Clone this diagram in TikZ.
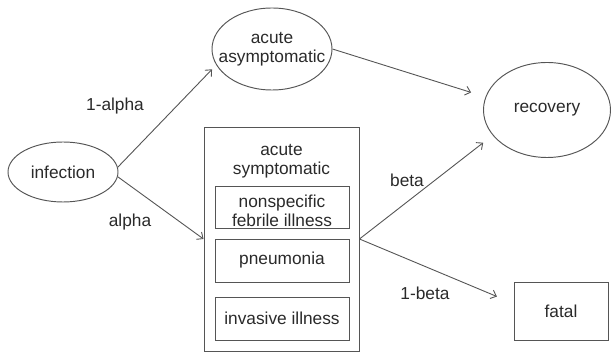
\documentclass[tikz,border=0pt]{standalone}
\usepackage{fontspec}
\setmainfont{Liberation Sans}
\usetikzlibrary{shapes.geometric,arrows.meta}
\definecolor{ln}{HTML}{555555}
\definecolor{tx}{HTML}{2A2A2A}
\begin{document}
\begin{tikzpicture}[x=1pt,y=-1pt,
  every node/.style={font=\fontsize{17.3}{19.5}\selectfont, text=tx, align=center, inner sep=0pt},
  ell/.style={draw=ln, line width=0.95pt, ellipse},
  box/.style={draw=ln, line width=0.95pt, rectangle},
  conn/.style={draw=ln, line width=0.9pt, -{Straight Barb[length=5pt,width=9pt]}},
  lbl/.style={}]
\useasboundingbox (0,0) rectangle (611,352);
\node[ell, minimum width=110pt, minimum height=60pt] (inf) at (63,172) {};
\node (inftxt) at (inf.center) {infection};
\node[ell, minimum width=120pt, minimum height=82pt] (asym) at (272,49) {};
\node (asymtxt) at (asym.center) {acute\\asymptomatic};
\node[ell, minimum width=127pt, minimum height=95pt] (rec) at (547,110) {};
\node (rectxt) at (rec.center) {recovery};
\node[box, minimum width=155pt, minimum height=224pt] (symp) at (281.5,239) {};
\node (symptitle) at (281.5,161) {acute\\symptomatic};
\node[box, minimum width=134pt, minimum height=42pt] (nonspec) at (282,207) {};
\node (nonspectxt) at (282,211) {nonspecific\\febrile illness};
\node[box, minimum width=134pt, minimum height=43pt] (pneu) at (282,260.5) {pneumonia};
\node[box, minimum width=134pt, minimum height=43pt] (inv) at (282,318.5) {invasive illness};
\node[box, minimum width=94pt, minimum height=58pt] (fatal) at (561,311) {fatal};
\draw[conn, shorten >=6pt] (inf.5) -- (asym.196);
\draw[conn] (inf.-5) -- (symp.west);
\draw[conn, shorten >=15pt] (asym.east) -- (rec.168);
\draw[conn, shorten >=12pt] (symp.east) -- (rec.205);
\draw[conn, shorten >=18pt] (symp.east) -- (fatal.171);
\node[lbl] (l1) at (115,106) {1-alpha};
\node[lbl] (l2) at (130,222) {alpha};
\node[lbl] (l3) at (407,180) {beta};
\node[lbl] (l4) at (425,293) {1-beta};
\end{tikzpicture}
\end{document}
